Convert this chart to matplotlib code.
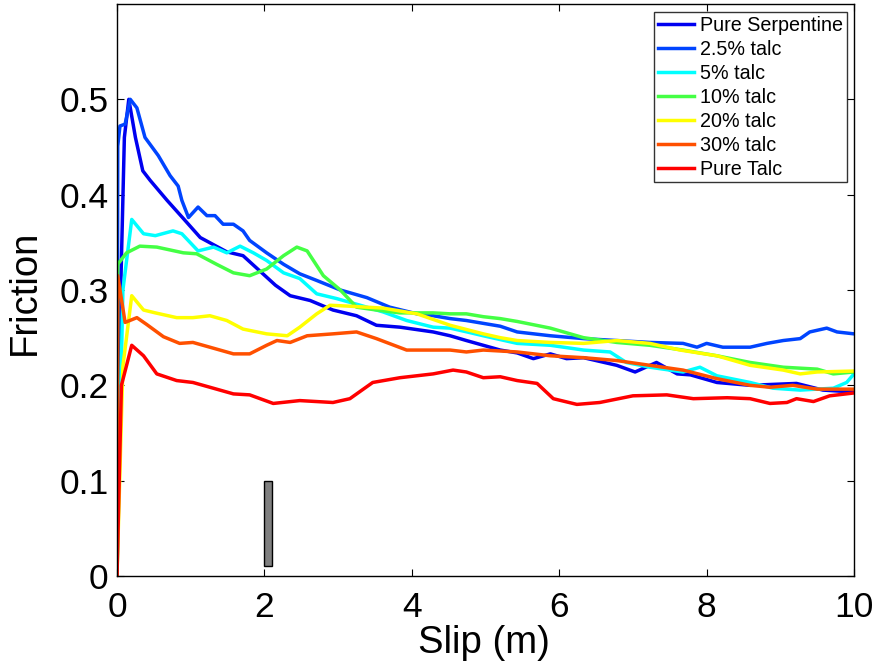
import matplotlib
matplotlib.use("Agg")
import matplotlib.pyplot as plt

plt.rcParams['font.family'] = ['Liberation Sans', 'DejaVu Sans']

# ---------------- data ----------------
labels = ["Pure Serpentine", "2.5% talc", "5% talc", "10% talc",
          "20% talc", "30% talc", "Pure Talc"]
colors = ["#0000f0", "#0044ff", "#00ffff", "#44ff44", "#ffff00", "#ff5000", "#ff0000"]

serp_x = [0, 0.05, 0.1, 0.16, 0.25, 0.35, 0.45, 0.68, 0.9, 1.13, 1.49, 1.71, 1.98, 2.15,
          2.35, 2.62, 2.93, 3.25, 3.52, 3.84, 4.29, 4.52, 4.74, 5.2, 5.43, 5.65, 5.88, 6.1,
          6.33, 6.78, 7.03, 7.32, 7.6, 7.78, 8.14, 8.59, 9.22, 9.58, 10.0]
serp_y = [0, 0.3, 0.46, 0.5, 0.46, 0.425, 0.415, 0.394, 0.375, 0.355, 0.34, 0.336, 0.317, 0.305,
          0.294, 0.289, 0.279, 0.273, 0.263, 0.261, 0.256, 0.252, 0.247, 0.237, 0.234, 0.228, 0.233, 0.228,
          0.229, 0.221, 0.214, 0.224, 0.212, 0.211, 0.203, 0.2, 0.202, 0.195, 0.193]

t25_x = [0, 0.01, 0.04, 0.11, 0.18, 0.27, 0.38, 0.56, 0.72, 0.83, 0.88, 0.97, 1.1, 1.22, 1.33,
         1.44, 1.58, 1.71, 1.8, 2.03, 2.26, 2.48, 2.71, 3.03, 3.39, 3.7, 4.07, 4.29, 4.52, 4.74,
         5.2, 5.43, 5.88, 6.33, 6.78, 7.23, 7.68, 7.87, 8.0, 8.22, 8.59, 8.82, 9.04, 9.27, 9.4,
         9.63, 9.77, 10.0]
t25_y = [0, 0.451, 0.472, 0.474, 0.5, 0.491, 0.46, 0.441, 0.42, 0.409, 0.394, 0.376, 0.387, 0.378, 0.378,
         0.369, 0.369, 0.362, 0.352, 0.339, 0.327, 0.317, 0.31, 0.3, 0.292, 0.282, 0.275, 0.273, 0.27, 0.268,
         0.262, 0.256, 0.252, 0.249, 0.247, 0.245, 0.244, 0.24, 0.244, 0.24, 0.24, 0.244, 0.247, 0.249, 0.256,
         0.26, 0.256, 0.254]

t5_x = [0, 0.08, 0.2, 0.36, 0.52, 0.76, 0.88, 1.1, 1.31, 1.49, 1.67, 1.85, 2.03, 2.26, 2.48,
        2.71, 2.98, 3.3, 3.61, 3.93, 4.29, 4.52, 4.75, 4.97, 5.43, 5.88, 6.33, 6.69, 6.91, 7.23,
        7.68, 7.91, 8.14, 8.59, 8.9, 9.27, 9.72, 9.9, 10.0]
t5_y = [0, 0.3, 0.374, 0.359, 0.357, 0.362, 0.359, 0.341, 0.345, 0.339, 0.346, 0.339, 0.331, 0.318, 0.312,
        0.296, 0.291, 0.284, 0.277, 0.268, 0.261, 0.26, 0.256, 0.252, 0.244, 0.242, 0.237, 0.235, 0.224, 0.219,
        0.214, 0.219, 0.21, 0.203, 0.197, 0.195, 0.197, 0.203, 0.212]

t10_x = [0, 0.01, 0.13, 0.31, 0.54, 0.9, 1.08, 1.35, 1.58, 1.8, 2.03, 2.26, 2.44, 2.58, 2.8,
         3.03, 3.25, 3.52, 3.84, 4.29, 4.52, 4.74, 4.97, 5.2, 5.43, 5.88, 6.33, 6.78, 7.23, 7.68,
         8.14, 8.59, 9.04, 9.5, 9.72, 10.0]
t10_y = [0, 0.327, 0.339, 0.346, 0.345, 0.339, 0.338, 0.327, 0.318, 0.315, 0.322, 0.336, 0.345, 0.341, 0.315,
         0.3, 0.282, 0.279, 0.276, 0.276, 0.275, 0.275, 0.272, 0.27, 0.267, 0.26, 0.25, 0.245, 0.242, 0.237,
         0.231, 0.224, 0.219, 0.217, 0.212, 0.214]

t20_x = [0, 0.08, 0.2, 0.36, 0.52, 0.81, 1.03, 1.26, 1.49, 1.71, 2.03, 2.31, 2.48, 2.71, 2.89,
         3.16, 3.61, 4.07, 4.52, 4.97, 5.2, 5.43, 5.88, 6.33, 6.78, 7.23, 7.64, 8.14, 8.59, 9.04,
         9.27, 9.5, 10.0]
t20_y = [0, 0.22, 0.294, 0.279, 0.276, 0.271, 0.271, 0.273, 0.268, 0.259, 0.254, 0.252, 0.261, 0.275, 0.284,
         0.283, 0.281, 0.275, 0.263, 0.254, 0.25, 0.247, 0.245, 0.244, 0.247, 0.244, 0.237, 0.231, 0.221, 0.216,
         0.212, 0.214, 0.215]

t30_x = [0, 0.01, 0.11, 0.27, 0.4, 0.63, 0.85, 1.03, 1.26, 1.58, 1.8, 2.03, 2.17, 2.35, 2.58,
         2.93, 3.25, 3.52, 3.93, 4.29, 4.52, 4.74, 4.97, 5.43, 5.88, 6.33, 6.78, 7.23, 7.68, 8.14,
         8.59, 8.86, 9.17, 9.5, 10.0]
t30_y = [0, 0.315, 0.266, 0.271, 0.264, 0.251, 0.244, 0.245, 0.24, 0.233, 0.233, 0.242, 0.247, 0.245, 0.252,
         0.254, 0.256, 0.249, 0.237, 0.237, 0.237, 0.235, 0.237, 0.235, 0.231, 0.229, 0.226, 0.221, 0.216, 0.207,
         0.2, 0.198, 0.2, 0.196, 0.196]

talc_x = [0, 0.06, 0.2, 0.36, 0.54, 0.81, 1.03, 1.26, 1.58, 1.8, 2.12, 2.48, 2.93, 3.16, 3.47,
          3.84, 4.29, 4.56, 4.74, 4.97, 5.2, 5.43, 5.7, 5.92, 6.24, 6.55, 7.0, 7.46, 7.82, 8.28,
          8.59, 8.86, 9.09, 9.22, 9.45, 9.67, 10.0]
talc_y = [0, 0.2, 0.242, 0.231, 0.212, 0.205, 0.203, 0.198, 0.191, 0.19, 0.181, 0.184, 0.182, 0.186, 0.203,
          0.208, 0.212, 0.216, 0.214, 0.208, 0.209, 0.205, 0.202, 0.186, 0.18, 0.182, 0.189, 0.19, 0.186, 0.187,
          0.186, 0.181, 0.182, 0.186, 0.183, 0.189, 0.192]

series = [(serp_x, serp_y), (t25_x, t25_y), (t5_x, t5_y), (t10_x, t10_y),
          (t20_x, t20_y), (t30_x, t30_y), (talc_x, talc_y)]

# scale bar
bar_x = 2.0
bar_width = 0.1
bar_bottom = 0.01
bar_top = 0.1

xticks = [0, 2, 4, 6, 8, 10]
yticks = [0, 0.1, 0.2, 0.3, 0.4, 0.5]
ytick_labels = ["0", "0.1", "0.2", "0.3", "0.4", "0.5"]

# ---------------- figure ----------------
W, H = 878, 666
fig = plt.figure(figsize=(W/100, H/100), dpi=100)
ax = fig.add_axes([117/W, (H-576)/H, (854-117)/W, (576-4)/H])

for (xs, ys), c, lab in zip(series, colors, labels):
    ax.plot(xs, ys, color=c, lw=2.5, label=lab, solid_joinstyle='round')

ax.bar([bar_x], [bar_top - bar_bottom], width=bar_width, bottom=bar_bottom,
       align='edge', color='#808080', edgecolor='black', linewidth=1)

ax.set_xlim(0, 10)
ax.set_ylim(0, 0.6)
ax.set_xticks(xticks)
ax.set_yticks(yticks)
ax.set_yticklabels(ytick_labels)
ax.tick_params(direction='in', length=5, width=0.8, top=True, right=True,
               labelsize=25.5, colors='black')
ax.tick_params(axis='x', pad=11)
ax.tick_params(axis='y', pad=6)
for s in ax.spines.values():
    s.set_linewidth(1.0)

fig.text(484/W, 1 - 643/H, "Slip (m)", fontsize=27.5, ha='center', va='center')
fig.text(25/W, 1 - 292/H, "Friction", fontsize=27.5, ha='center', va='center', rotation=90)

leg = ax.legend(loc='upper right', bbox_to_anchor=(0.990, 0.986), borderaxespad=0,
                fontsize=14.2, frameon=True, fancybox=False, handlelength=1.85,
                handletextpad=0.28, labelspacing=0.25, borderpad=0.2)
leg.get_frame().set_edgecolor('black')
leg.get_frame().set_linewidth(1.0)

fig.savefig("out.png", dpi=100)
